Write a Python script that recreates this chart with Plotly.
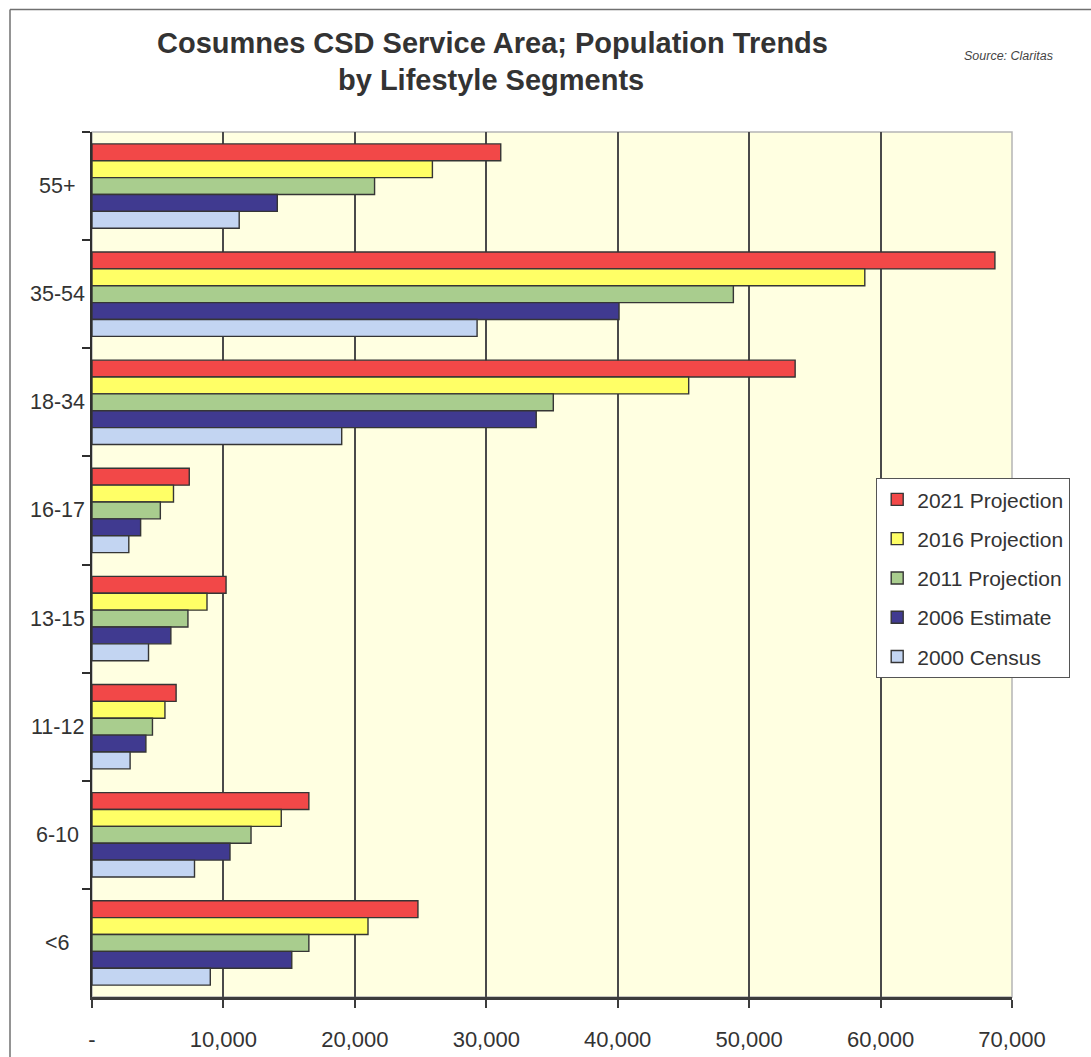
import html
import plotly.graph_objects as go

# Lifestyle segments, listed from top to bottom of the chart
segments = ["55+", "35-54", "18-34", "16-17", "13-15", "11-12", "6-10", "<6"]

pop_2021 = [31100, 68700, 53500, 7400, 10200, 6400, 16500, 24800]
pop_2016 = [25900, 58800, 45400, 6200, 8750, 5550, 14400, 21000]
pop_2011 = [21500, 48800, 35100, 5200, 7300, 4600, 12100, 16500]
pop_2006 = [14100, 40100, 33800, 3700, 6000, 4100, 10500, 15200]
pop_2000 = [11200, 29300, 19000, 2800, 4300, 2900, 7800, 9000]

series_names = ["2021 Projection", "2016 Projection", "2011 Projection",
                "2006 Estimate", "2000 Census"]
series_values = [pop_2021, pop_2016, pop_2011, pop_2006, pop_2000]
series_colors = ["#F24848", "#FFFF66", "#A9CD8E", "#403A90", "#C3D5F2"]

tick_values = [0, 10000, 20000, 30000, 40000, 50000, 60000, 70000]
tick_labels = ["-", "10,000", "20,000", "30,000", "40,000", "50,000", "60,000", "70,000"]

title_lines = ["Cosumnes CSD Service Area; Population Trends", "by Lifestyle Segments"]
source_note = "Source: Claritas"

W, H = 1091, 1057
L, R, T, B = 92, 79, 132, 60
PW, PH = W - L - R, H - T - B


def px_x(px):
    return (px - L) / PW


def px_y(py):
    return (H - B - py) / PH


FONT = "Liberation Sans, Arial, sans-serif"

fig = go.Figure()
for i, (name, vals, col) in enumerate(zip(series_names, series_values, series_colors)):
    fig.add_trace(go.Bar(
        y=segments, x=vals, name=name, orientation="h",
        marker=dict(color=col, line=dict(color="#353535", width=1.4)),
        legendgroup=f"g{i}",
    ))

annotations = []
for line, cx, cy in zip(title_lines, [492, 491], [43, 80]):
    annotations.append(dict(text=line, xref="paper", yref="paper",
                            x=px_x(cx), y=px_y(cy), xanchor="center", yanchor="middle",
                            showarrow=False,
                            font=dict(family=FONT, size=29, color="#333333", weight="bold")))
annotations.append(dict(text=f"<i>{source_note}</i>", xref="paper", yref="paper",
                        x=px_x(1008), y=px_y(56), xanchor="center", yanchor="middle",
                        showarrow=False,
                        font=dict(family=FONT, size=12.5, color="#444444")))
for seg in segments:
    annotations.append(dict(text=html.escape(seg), xref="paper", yref="y", x=px_x(57), y=seg,
                            xanchor="center", yanchor="middle", showarrow=False,
                            font=dict(family=FONT, size=21.5, color="#333333")))

shapes = [
    # outer frame of the chart (left and top edges)
    dict(type="line", xref="paper", yref="paper",
         x0=px_x(10), x1=px_x(10), y0=px_y(H + 5), y1=px_y(9.5),
         line=dict(color="#707070", width=1.5), layer="below"),
    dict(type="line", xref="paper", yref="paper",
         x0=px_x(10), x1=px_x(W + 5), y0=px_y(9.5), y1=px_y(9.5),
         line=dict(color="#707070", width=1.5), layer="below"),
    # light border around the plotting area
    dict(type="rect", xref="paper", yref="paper", x0=0, x1=1, y0=0, y1=1,
         line=dict(color="#b5b5b5", width=1.5), fillcolor="rgba(0,0,0,0)", layer="below"),
]

fig.update_layout(
    width=W, height=H,
    autosize=False,
    margin=dict(l=L, r=R, t=T, b=B),
    paper_bgcolor="white",
    plot_bgcolor="#FFFFE1",
    barmode="group",
    bargap=0.22,
    bargroupgap=0,
    showlegend=True,
    legend=dict(
        x=px_x(876), y=px_y(478), xanchor="left", yanchor="top",
        bgcolor="white", bordercolor="#555555", borderwidth=1.2,
        font=dict(family=FONT, size=21, color="#333333"),
        traceorder="grouped", tracegroupgap=9, itemwidth=30,
    ),
    annotations=annotations,
    shapes=shapes,
    xaxis=dict(
        automargin=False,
        range=[0, 70000], tickvals=tick_values, ticktext=tick_labels,
        showgrid=True, gridcolor="#4a4a4a", gridwidth=1.6,
        zeroline=False,
        showline=True, linecolor="#3c3c3c", linewidth=3,
        ticks="outside", ticklen=8, tickwidth=1.6, tickcolor="#3c3c3c",
        ticklabelstandoff=13,
        tickfont=dict(family=FONT, size=22, color="#333333"),
    ),
    yaxis=dict(
        automargin=False,
        type="category",
        categoryorder="array", categoryarray=segments, autorange="reversed",
        showticklabels=False, showgrid=False, zeroline=False,
        showline=True, linecolor="#2f2f2f", linewidth=2,
        ticks="outside", tickson="boundaries", ticklen=8, tickwidth=1.6,
        tickcolor="#2f2f2f",
    ),
)

fig.write_html("out.html")
